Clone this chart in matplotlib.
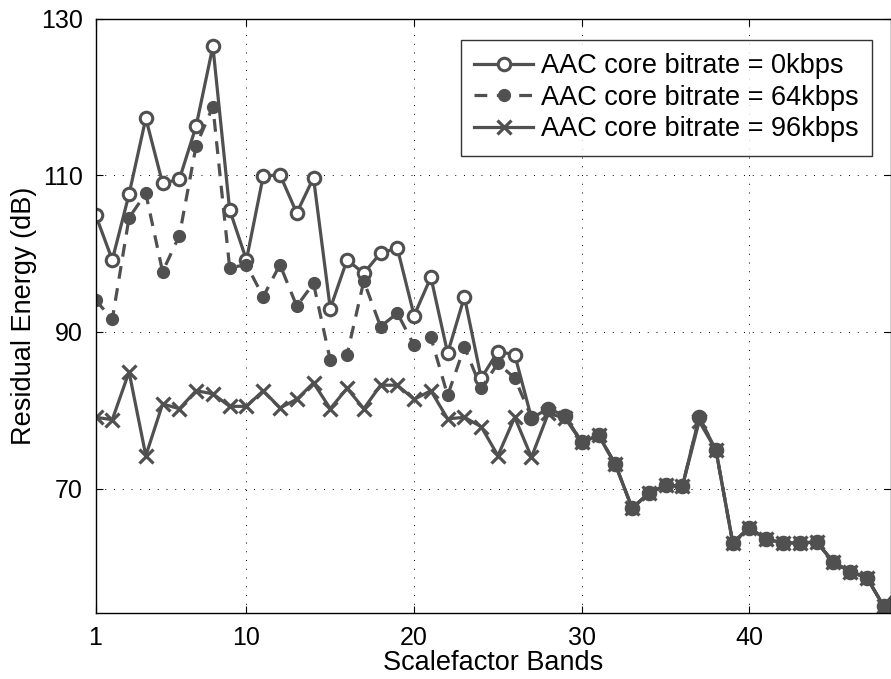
import matplotlib
matplotlib.use("Agg")
import matplotlib.pyplot as plt

plt.rcParams['font.family'] = ['Liberation Sans', 'DejaVu Sans']

bands = list(range(1, 50))

# residual energy per scalefactor band (dB)
core_0k = [105.0, 99.2, 107.6, 117.3, 109.0, 109.5, 116.3, 126.5, 105.6, 99.2,
           109.9, 110.1, 105.2, 109.7, 93.0, 99.2, 97.5, 100.1, 100.7, 92.1,
           97.0, 87.3, 94.5, 84.1, 87.5, 87.1, 79.0, 80.2, 79.3, 75.9,
           76.8, 73.1, 67.5, 69.4, 70.4, 70.3, 79.1, 74.9, 63.1, 65.0,
           63.5, 63.1, 63.0, 63.2, 60.6, 59.4, 58.6, 55.0, 57.4]
core_64k = [94.1, 91.6, 104.6, 107.7, 97.7, 102.3, 113.8, 118.8, 98.2, 98.6,
            94.5, 98.6, 93.3, 96.2, 86.4, 87.1, 96.5, 90.7, 92.4, 88.3,
            89.3, 81.9, 88.1, 82.8, 86.0, 84.1, 79.1, 80.2, 79.3, 75.9,
            76.8, 73.1, 67.5, 69.4, 70.4, 70.3, 79.1, 74.9, 63.1, 65.0,
            63.5, 63.1, 63.0, 63.2, 60.6, 59.4, 58.6, 55.0, 57.4]
core_96k = [79.1, 78.8, 84.9, 74.2, 80.8, 80.2, 82.5, 82.1, 80.5, 80.5,
            82.5, 80.3, 81.4, 83.5, 80.2, 82.8, 80.2, 83.2, 83.2, 81.4,
            82.5, 78.9, 79.1, 77.9, 74.2, 79.1, 74.0, 79.6, 79.0, 75.9,
            76.8, 73.1, 67.5, 69.4, 70.4, 70.3, 78.6, 74.9, 63.1, 65.0,
            63.5, 63.1, 63.0, 63.2, 60.6, 59.4, 58.6, 55.0, 57.4]

labels = ['AAC core bitrate = 0kbps', 'AAC core bitrate = 64kbps',
          'AAC core bitrate = 96kbps']
xticks = [1, 10, 20, 30, 40]
yticks = [70, 90, 110, 130]

col = '#505050'
fig = plt.figure(figsize=(8.91, 6.79), dpi=100)
ax = fig.add_axes([0.1072, 0.0972, 0.8928, 0.875])

ax.plot(bands, core_0k, '-', color=col, lw=2.3, marker='o', ms=9,
        mfc='white', mec=col, mew=2.2, label=labels[0])
ax.plot(bands, core_64k, '--', color=col, lw=2.3, dashes=(4, 3), marker='o',
        ms=8.5, mfc=col, mec=col, label=labels[1])
ax.plot(bands, core_96k, '-', color=col, lw=2.3, marker='x', ms=10,
        mew=2.3, label=labels[2])

ax.set_xlim(1, 48.44)
ax.set_ylim(54.1, 130)
ax.set_xticks(xticks)
ax.set_yticks(yticks)
ax.tick_params(direction='in', top=True, right=True, labelsize=18,
               length=5, width=0.8, pad=9)
ax.grid(True, linestyle=(0, (1, 8)), color='black', lw=0.7)
for s in ax.spines.values():
    s.set_linewidth(1.0)

ax.set_xlabel('Scalefactor Bands', fontsize=19.5, labelpad=0)
ax.set_ylabel('Residual Energy (dB)', fontsize=19.5, labelpad=3)

leg = ax.legend(loc='upper right', bbox_to_anchor=(0.976, 0.9646), fontsize=19.5,
                frameon=True, fancybox=False, handlelength=2.15,
                handletextpad=0.3, borderpad=0.5, labelspacing=0.2,
                borderaxespad=0)
leg.get_frame().set_edgecolor('black')
leg.get_frame().set_linewidth(1.0)

fig.savefig('out.png', dpi=100)
